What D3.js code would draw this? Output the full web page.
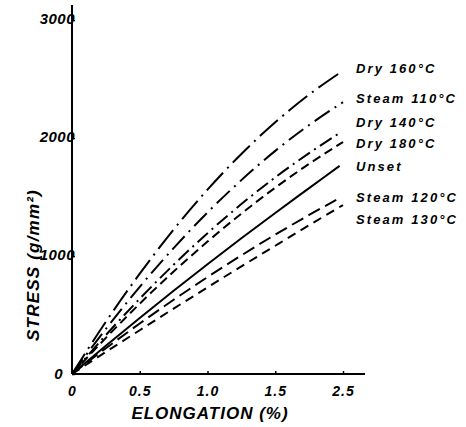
<!DOCTYPE html>
<html>
<head>
<meta charset="utf-8">
<script src="https://cdn.jsdelivr.net/npm/d3@7"></script>
<style>
  body { margin: 0; background: #fff; }
  svg { display: block; }
</style>
</head>
<body>
<svg id="chart" width="466" height="427"></svg>
<script>
// ---- data ----
const xTickLabels = ["0", "0.5", "1.0", "1.5", "2.5"];
const xTickValues = [0, 0.5, 1.0, 1.5, 2.5];
const yTickValues = [0, 1000, 2000, 3000];

const seriesNames = ["Dry 160°C", "Steam 110°C", "Dry 140°C", "Dry 180°C", "Unset", "Steam 120°C", "Steam 130°C"];

const dry160X   = [0, 0.25, 0.5, 0.75, 1.0, 1.25, 1.5, 2.0, 2.45];
const dry160Y   = [0, 443, 850, 1224, 1562, 1865, 2133, 2368, 2551];
const steam110X = [0, 0.25, 0.5, 0.75, 1.0, 1.25, 1.5, 2.0, 2.5];
const steam110Y = [0, 382, 739, 1067, 1369, 1643, 1891, 2110, 2304];
const dry140X   = [0, 0.25, 0.5, 0.75, 1.0, 1.25, 1.5, 2.0, 2.45];
const dry140Y   = [0, 330, 638, 926, 1193, 1440, 1666, 1872, 2042];
const dry180X   = [0, 0.25, 0.5, 0.75, 1.0, 1.25, 1.5, 2.0, 2.5];
const dry180Y   = [0, 306, 596, 868, 1122, 1359, 1579, 1781, 1966];
const unsetX    = [0, 0.25, 0.5, 0.75, 1.0, 1.25, 1.5, 2.0, 2.45];
const unsetY    = [0, 240, 475, 705, 930, 1150, 1365, 1575, 1764];
const steam120X = [0, 0.25, 0.5, 0.75, 1.0, 1.25, 1.5, 2.0, 2.4];
const steam120Y = [0, 218, 428, 629, 821, 1005, 1181, 1348, 1475];
const steam130X = [0, 0.25, 0.5, 0.75, 1.0, 1.25, 1.5, 2.0, 2.5];
const steam130Y = [0, 187, 371, 554, 734, 912, 1087, 1261, 1432];

const seriesX = [dry160X, steam110X, dry140X, dry180X, unsetX, steam120X, steam130X];
const seriesY = [dry160Y, steam110Y, dry140Y, dry180Y, unsetY, steam120Y, steam130Y];

// ---- styles ----
const dashes = ["24,6,2,6", "18,6,2,6", "14,5,2,5", "9,5", null, "13,6", "9,6"];
const labelY = [68, 98, 122, 143, 166, 197, 219];
const FONT = "Liberation Sans, Arial, sans-serif";

const svg = d3.select("#chart");
const ox = 72, oy = 374;
const step = 67.75;

const x = d3.scaleLinear()
  .domain(xTickValues)
  .range(xTickValues.map((d, i) => ox + i * step));
const y = d3.scaleLinear().domain([0, 3000]).range([oy, 20]);

// axis lines
svg.append("line").attr("x1", ox).attr("x2", 365).attr("y1", oy).attr("y2", oy)
  .attr("stroke", "#000").attr("stroke-width", 2);
svg.append("line").attr("x1", ox).attr("x2", ox).attr("y1", oy).attr("y2", 5)
  .attr("stroke", "#000").attr("stroke-width", 2);

// x axis ticks
const xAxis = d3.axisBottom(x)
  .tickValues(xTickValues)
  .tickSize(-3)
  .tickSizeOuter(0)
  .tickPadding(10)
  .tickFormat((d, i) => xTickLabels[i]);
const gx = svg.append("g").attr("transform", `translate(0,${oy})`).call(xAxis);
gx.select(".domain").remove();
gx.selectAll(".tick line").attr("stroke", "#000").attr("stroke-width", 1.5);
gx.selectAll(".tick text")
  .attr("font-family", FONT)
  .attr("font-size", 14).attr("font-weight", "bold").attr("font-style", "italic")
  .attr("letter-spacing", 1)
  .attr("fill", "#000").attr("dy", "0.85em");

// y axis ticks
const yAxis = d3.axisLeft(y)
  .tickValues(yTickValues)
  .tickSize(-3)
  .tickSizeOuter(0)
  .tickPadding(1)
  .tickFormat(d3.format("d"));
const gy = svg.append("g").attr("transform", `translate(${ox},0)`).call(yAxis);
gy.select(".domain").remove();
gy.selectAll(".tick line").attr("stroke", "#000").attr("stroke-width", 1.5);
gy.selectAll(".tick text")
  .attr("font-family", FONT)
  .attr("font-size", 15).attr("font-weight", "bold").attr("font-style", "italic")
  .attr("letter-spacing", 0.5)
  .attr("fill", "#000").attr("dx", "4").attr("dy", "0.2em");
gy.selectAll(".tick").filter(d => d === 0).select("text").attr("dx", "-8").attr("dy", "0.3em");

// curves
const line = d3.line()
  .x(d => x(d[0]))
  .y(d => y(d[1]))
  .curve(d3.curveMonotoneX);

seriesNames.forEach((name, i) => {
  const pts = seriesX[i].map((v, j) => [v, seriesY[i][j]]);
  const p = svg.append("path")
    .datum(pts)
    .attr("d", line)
    .attr("fill", "none")
    .attr("stroke", "#000")
    .attr("stroke-width", 2);
  if (dashes[i]) p.attr("stroke-dasharray", dashes[i]);

  svg.append("text")
    .attr("x", 356)
    .attr("y", labelY[i])
    .attr("dy", "0.35em")
    .attr("font-family", FONT)
    .attr("font-size", 13)
    .attr("font-weight", "bold")
    .attr("font-style", "italic")
    .attr("letter-spacing", 2.1)
    .attr("fill", "#000")
    .text(name);
});

// axis titles
svg.append("text")
  .attr("x", 210).attr("y", 413).attr("dy", "0.35em")
  .attr("text-anchor", "middle")
  .attr("font-family", FONT)
  .attr("font-size", 17)
  .attr("font-weight", "bold")
  .attr("font-style", "italic")
  .attr("letter-spacing", 1)
  .attr("fill", "#000")
  .text("ELONGATION (%)");

svg.append("text")
  .attr("transform", "translate(33,265) rotate(-90)")
  .attr("dy", "0.35em")
  .attr("text-anchor", "middle")
  .attr("font-family", FONT)
  .attr("font-size", 17)
  .attr("font-weight", "bold")
  .attr("font-style", "italic")
  .attr("letter-spacing", 1.2)
  .attr("fill", "#000")
  .text("STRESS (g/mm²)");
</script>
</body>
</html>
